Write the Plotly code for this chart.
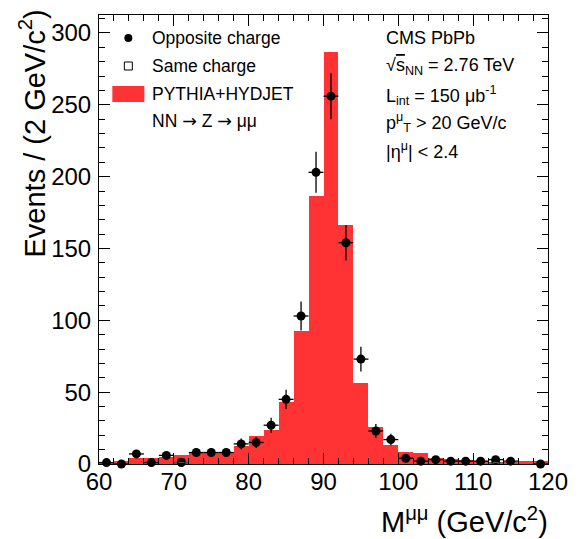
import math
import plotly.graph_objects as go

# ---- data ----
mass_bins = [61, 63, 65, 67, 69, 71, 73, 75, 77, 79, 81, 83, 85, 87, 89,
             91, 93, 95, 97, 99, 101, 103, 105, 107, 109, 111, 113, 115, 117, 119]
mc_counts = [1.5, 2.0, 4.0, 4.0, 5.0, 6.0, 7.5, 7.5, 8.5, 12.5, 19.5, 23.6, 43.0, 92.5, 186.5,
             286.7, 166.3, 56.4, 25.7, 13.2, 8.1, 7.4, 4.0, 3.2, 2.8, 2.3, 1.6, 1.6, 2.0, 2.0]
data_counts = [1, 0, 7, 1, 6, 1, 8, 8, 8, 14, 15, 27, 45, 103, 203,
               256, 154, 73, 23, 17, 4, 2, 3, 2, 2, 2, 3, 2, None, 0]
same_bins = [71, 113]
same_counts = [1, 1]

x_ticks = [60, 70, 80, 90, 100, 110, 120]
y_ticks = [0, 50, 100, 150, 200, 250, 300]

FONT = "Liberation Sans, Arial, Helvetica, sans-serif"
RED = "#ff3333"
ARROW = "<span style='font-family:DejaVu Sans'>→</span>"

W, H = 580, 539
ML, MR, MT, MB = 99, 22, 15, 75
PW, PH = W - ML - MR, H - MT - MB


def px(xp):
    return (xp - ML) / PW


def py(yp):
    return (H - MB - yp) / PH


fig = go.Figure()

fig.add_trace(go.Bar(
    x=mass_bins, y=mc_counts, width=2,
    marker=dict(color=RED, line=dict(width=0)),
    name="PYTHIA+HYDJET", showlegend=False,
))

dx = [b for b, c in zip(mass_bins, data_counts) if c is not None]
dy = [c for c in data_counts if c is not None]
derr = [math.sqrt(c) for c in dy]
fig.add_trace(go.Scatter(
    x=dx, y=dy, mode="markers",
    marker=dict(symbol="circle", size=9, color="black"),
    error_y=dict(type="data", array=derr, visible=True, color="black", thickness=1.3, width=0),
    error_x=dict(type="constant", value=1, visible=True, color="black", thickness=1.3, width=0),
    name="Opposite charge", showlegend=False, cliponaxis=False,
))

fig.add_trace(go.Scatter(
    x=same_bins, y=same_counts, mode="markers",
    marker=dict(symbol="square-open", size=7, color="black", line=dict(width=1)),
    error_x=dict(type="constant", value=1, visible=True, color="#555", thickness=1, width=0),
    name="Same charge", showlegend=False,
))

axis_common = dict(
    showline=True, linecolor="black", linewidth=1, mirror="allticks",
    ticks="inside", ticklen=11, tickwidth=1, tickcolor="black",
    showgrid=False, zeroline=False,
    tickfont=dict(family=FONT, size=24, color="black"),
)

fig.update_xaxes(range=[60, 120], tickvals=x_ticks, ticktext=[str(v) for v in x_ticks],
                 minor=dict(dtick=2, ticklen=6, ticks="inside", tickcolor="black", tickwidth=1, showgrid=False),
                 ticklabelstandoff=-4, **axis_common)
fig.update_yaxes(range=[0, 312.5], tickvals=y_ticks, ticktext=[str(v) for v in y_ticks],
                 minor=dict(dtick=10, ticklen=6, ticks="inside", tickcolor="black", tickwidth=1, showgrid=False),
                 ticklabelstandoff=2, **axis_common)

annotations = []
# axis titles
annotations.append(dict(text="Events / (2 GeV/c<sup>2</sup>)", textangle=-90,
                        x=px(31), y=py(7), xref="paper", yref="paper",
                        xanchor="center", yanchor="top", showarrow=False,
                        font=dict(family=FONT, size=29, color="black")))
annotations.append(dict(text="M<sup>μμ</sup> (GeV/c<sup>2</sup>)",
                        x=px(560), y=py(520), xref="paper", yref="paper",
                        xanchor="right", yanchor="middle", showarrow=False,
                        font=dict(family=FONT, size=29, color="black")))

# legend texts
leg_lines = [("Opposite charge", 38), ("Same charge", 66), ("PYTHIA+HYDJET", 94),
             ("NN " + ARROW + " Z " + ARROW + " μμ", 121)]
for t, yy in leg_lines:
    annotations.append(dict(text=t, x=px(151), y=py(yy), xref="paper", yref="paper",
                            xanchor="left", yanchor="middle", showarrow=False,
                            font=dict(family=FONT, size=17.5, color="black")))

# info text
info = ["CMS PbPb",
        "√<span style='text-decoration:overline'>s</span><sub>NN</sub> = 2.76 TeV",
        "L<sub>int</sub> = 150 μb<sup>-1</sup>",
        "p<sup>μ</sup><sub>T</sub> > 20 GeV/c",
        "|η<sup>μ</sup>| < 2.4"]
info_y = [38, 66, 95, 122, 150]
for t, yy in zip(info, info_y):
    annotations.append(dict(text=t, x=px(390), y=py(yy), xref="paper", yref="paper",
                            xanchor="left", yanchor="middle", showarrow=False,
                            font=dict(family=FONT, size=18, color="black")))

shapes = [
    dict(type="circle", xref="paper", yref="paper", xsizemode="pixel", ysizemode="pixel",
         xanchor=px(129), yanchor=py(38), x0=-4, x1=4, y0=-4, y1=4,
         fillcolor="black", line=dict(color="black", width=0)),
    dict(type="rect", xref="paper", yref="paper", xsizemode="pixel", ysizemode="pixel",
         xanchor=px(129), yanchor=py(66), x0=-4, x1=4, y0=-4, y1=4,
         fillcolor="white", line=dict(color="black", width=1)),
    dict(type="rect", xref="paper", yref="paper", xsizemode="pixel", ysizemode="pixel",
         xanchor=px(129), yanchor=py(94), x0=-16, x1=16, y0=-8, y1=8,
         fillcolor=RED, line=dict(width=0)),
]

fig.update_layout(
    width=W, height=H,
    margin=dict(l=ML, r=MR, t=MT, b=MB, pad=0),
    paper_bgcolor="white", plot_bgcolor="white",
    bargap=0, showlegend=False,
    font=dict(family=FONT, color="black"),
    annotations=annotations, shapes=shapes,
)

fig.write_html("out.html")
